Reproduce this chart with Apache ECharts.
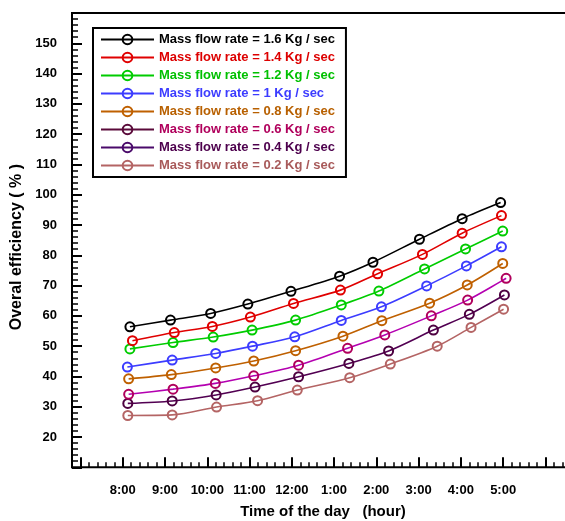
<!DOCTYPE html>
<html>
<head>
<meta charset="utf-8">
<script src="https://cdn.jsdelivr.net/npm/echarts@6/dist/echarts.min.js"></script>
<style>
  html, body { margin: 0; padding: 0; background: #fff; }
  #chart { width: 565px; height: 521px; }
</style>
</head>
<body>
<div id="chart"></div>
<script>
// Hour positions of the labelled ticks and their text
const tickHours = [8, 9, 10, 11, 12, 13, 14, 15, 16, 17];
const tickLabels = ['8:00', '9:00', '10:00', '11:00', '12:00', '1:00', '2:00', '3:00', '4:00', '5:00'];

// Series names (mass flow rate)
const seriesNames = [
  'Mass flow rate = 1.6 Kg / sec',
  'Mass flow rate = 1.4 Kg / sec',
  'Mass flow rate = 1.2 Kg / sec',
  'Mass flow rate = 1 Kg / sec',
  'Mass flow rate = 0.8 Kg / sec',
  'Mass flow rate = 0.6 Kg / sec',
  'Mass flow rate = 0.4 Kg / sec',
  'Mass flow rate = 0.2 Kg / sec'
];

// Measurement times (hours, 24h clock) and overall efficiency (%) per flow rate
const time16 = [8.17, 9.13, 10.08, 10.96, 11.98, 13.13, 13.92, 15.02, 16.03, 16.94];
const eff16  = [56.4, 58.6, 60.8, 63.9, 68.1, 73.1, 77.7, 85.3, 92.1, 97.4];

const time14 = [8.23, 9.22, 10.12, 11.02, 12.04, 13.15, 14.03, 15.09, 16.03, 16.96];
const eff14  = [51.8, 54.5, 56.5, 59.6, 64.1, 68.5, 73.9, 80.3, 87.3, 93.1];

const time12 = [8.17, 9.19, 10.14, 11.06, 12.09, 13.17, 14.06, 15.14, 16.11, 16.99];
const eff12  = [49.1, 51.2, 53.0, 55.3, 58.6, 63.6, 68.2, 75.5, 82.1, 88.0];

const time10 = [8.11, 9.17, 10.20, 11.07, 12.07, 13.17, 14.12, 15.19, 16.13, 16.96];
const eff10  = [43.1, 45.4, 47.6, 50.0, 53.1, 58.5, 63.0, 69.9, 76.5, 82.8];

const time08 = [8.14, 9.15, 10.20, 11.10, 12.09, 13.21, 14.13, 15.26, 16.15, 16.99];
const eff08  = [39.2, 40.6, 42.8, 45.1, 48.5, 53.3, 58.4, 64.2, 70.2, 77.3];

const time06 = [8.14, 9.19, 10.19, 11.10, 12.16, 13.32, 14.20, 15.30, 16.16, 17.07];
const eff06  = [34.1, 35.8, 37.7, 40.2, 43.7, 49.3, 53.7, 60.0, 65.2, 72.4];

const time04 = [8.12, 9.17, 10.21, 11.13, 12.16, 13.35, 14.29, 15.35, 16.20, 17.03];
const eff04  = [31.1, 31.9, 33.9, 36.5, 39.9, 44.3, 48.4, 55.3, 60.5, 66.9];

const time02 = [8.12, 9.17, 10.22, 11.19, 12.13, 13.37, 14.33, 15.44, 16.24, 17.01];
const eff02  = [27.1, 27.3, 29.9, 32.0, 35.5, 39.6, 44.1, 50.0, 56.2, 62.2];

const seriesTimes = [time16, time14, time12, time10, time08, time06, time04, time02];
const seriesEffs  = [eff16, eff14, eff12, eff10, eff08, eff06, eff04, eff02];

// Colours: connecting line, circle marker, legend text, legend line
const lineColors   = ['#000000', '#e00000', '#00cc00', '#3c3cff', '#bf6000', '#b400b0', '#520052', '#b46464'];
const markerColors = ['#000000', '#e00000', '#00cc00', '#3c3cff', '#bf6000', '#b0005c', '#4d0040', '#b46464'];
const textColors   = ['#000000', '#dd0000', '#00c000', '#3c3cff', '#b86000', '#b0005c', '#4d004d', '#a85a5a'];
const legendLine   = ['#000000', '#e00000', '#00cc00', '#3c3cff', '#bf6000', '#5a0a3a', '#4a0a6a', '#b46464'];

const FONT = '"Liberation Sans", Arial, sans-serif';

const chart = echarts.init(document.getElementById('chart'), null, { renderer: 'canvas' });

const PLOT_TOP = 13;
const PLOT_H = 454.3;
const PX_PER_HOUR = 42.27;
const FRAME_LEFT = 72;

const series = seriesNames.map((name, i) => ({
  name: name,
  type: 'line',
  xAxisIndex: 1,
  yAxisIndex: 1,
  smooth: 0.3,
  symbol: 'circle',
  symbolSize: 9,
  z: 10 - i,
  lineStyle: { color: lineColors[i], width: 1.6 },
  itemStyle: { color: 'rgba(255,255,255,0)', borderColor: markerColors[i], borderWidth: 2 },
  emphasis: { disabled: true },
  data: seriesTimes[i].map((t, k) => [t, seriesEffs[i][k]])
}));

const option = {
  animation: false,
  backgroundColor: '#ffffff',
  grid: [
    // frame with the efficiency axis; starts 1.2 h before 8:00 and runs past the right edge
    { left: FRAME_LEFT, top: PLOT_TOP, height: PLOT_H, width: 540,
      outerBoundsMode: 'none', containLabel: false,
      show: true, borderColor: '#000', borderWidth: 2, backgroundColor: 'transparent' },
    // time axis, aligned so that 7 h sits 0.2 h right of the frame
    { left: FRAME_LEFT + 0.2 * PX_PER_HOUR, top: PLOT_TOP, height: PLOT_H,
      width: 12 * PX_PER_HOUR, outerBoundsMode: 'none', containLabel: false }
  ],
  xAxis: [
    { gridIndex: 0, type: 'value', min: 0, max: 1, show: false },
    { gridIndex: 1, type: 'value', min: 7, max: 19, interval: 1,
      axisLine: { show: false },
      axisTick: { show: true, inside: true, length: 10, lineStyle: { color: '#000', width: 2 } },
      minorTick: { show: true, splitNumber: 5, length: 5, lineStyle: { color: '#000', width: 1.5 } },
      splitLine: { show: false },
      axisLabel: {
        margin: 17, color: '#000', fontFamily: FONT, fontWeight: 'bold', fontSize: 13,
        formatter: v => { const k = tickHours.indexOf(Math.round(v)); return (Math.abs(v - Math.round(v)) < 1e-6 && k >= 0) ? tickLabels[k] : ''; }
      }
    }
  ],
  yAxis: [
    { gridIndex: 0, type: 'value', min: 10, max: 160, interval: 10,
      axisLine: { show: true, lineStyle: { color: '#000', width: 2 } },
      axisTick: { show: true, inside: true, length: 10, lineStyle: { color: '#000', width: 2 } },
      minorTick: { show: true, splitNumber: 5, length: 6, lineStyle: { color: '#000', width: 1.5 } },
      splitLine: { show: false },
      axisLabel: {
        margin: 15, color: '#000', fontFamily: FONT, fontWeight: 'bold', fontSize: 13,
        formatter: v => (v >= 20 && v <= 150) ? String(v) : ''
      },
      name: 'Overal efficiency ( % )',
      nameLocation: 'middle', nameGap: 44,
      nameTextStyle: { color: '#000', fontFamily: FONT, fontWeight: 'bold', fontSize: 16, padding: [0, 14, 0, 0] }
    },
    { gridIndex: 1, type: 'value', min: 10, max: 160, show: false }
  ],
  // x-axis title, centred under the tick labels
  graphic: [{
    type: 'text',
    x: 323, y: 512,
    style: {
      text: 'Time of the day   (hour)',
      fill: '#000',
      fontFamily: FONT, fontWeight: 'bold', fontSize: 15,
      align: 'center', verticalAlign: 'middle'
    }
  }],
  legend: {
    orient: 'vertical',
    left: 93, top: 28,
    padding: [5, 11, 5, 7],
    itemGap: 5,
    itemWidth: 53,
    itemHeight: 12,
    borderColor: '#000',
    borderWidth: 2,
    backgroundColor: '#fff',
    selectedMode: false,
    textStyle: { fontFamily: FONT, fontWeight: 'bold', fontSize: 13, width: 184 },
    data: seriesNames.map((n, i) => ({
      name: n,
      textStyle: { color: textColors[i] },
      lineStyle: { color: legendLine[i] },
      itemStyle: { borderColor: legendLine[i] }
    }))
  },
  series: series
};

chart.setOption(option);
</script>
</body>
</html>
